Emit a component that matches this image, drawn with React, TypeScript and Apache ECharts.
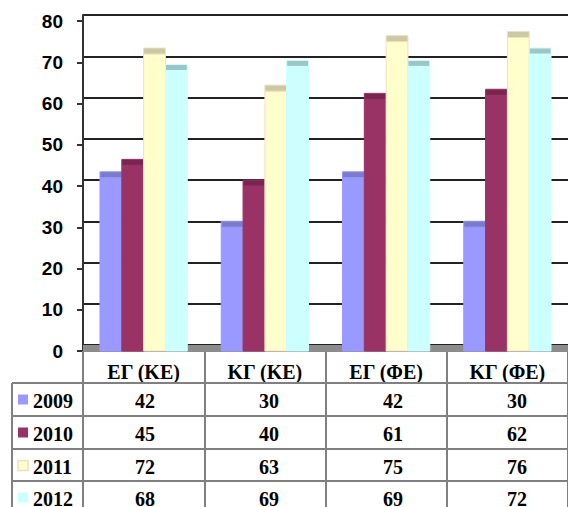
import React, { useEffect, useRef } from "react";
import * as echarts from "echarts";

const categories = ["ΕΓ (ΚΕ)", "ΚΓ (ΚΕ)", "ΕΓ (ΦΕ)", "ΚΓ (ΦΕ)"];
const years = ["2009", "2010", "2011", "2012"];
const v2009 = [42, 30, 42, 30];
const v2010 = [45, 40, 61, 62];
const v2011 = [72, 63, 75, 76];
const v2012 = [68, 69, 69, 72];
const seriesValues = [v2009, v2010, v2011, v2012];

const faceColors = ["#9999FF", "#993366", "#FFFFCC", "#CCFFFF"];
const capColors = ["#7B7BCC", "#7A2550", "#C9C9A2", "#9CC6C6"];
const edgeColors = ["#9999FF", "#993366", "#F6DCC4", "#CCFFFF"];

// layout
const W = 568;
const H = 507;
const LEFT = 83;
const PLOT_TOP = 21;
const PLOT_BOTTOM = 351;
const DEPTH = 6;
const CAT_W = 124;
const ROW_TOPS = [383, 416, 449, 481];
const ROW_H = 33;
const TABLE_LEFT = 12;
const SERIF = "Liberation Serif";
const SANS = "Liberation Sans";

export default function App() {
  const ref = useRef<HTMLDivElement>(null);

  useEffect(() => {
    if (!ref.current) return;
    const chart = echarts.init(ref.current, null, { renderer: "svg" });
    const plotH = PLOT_BOTTOM - PLOT_TOP;
    const right = W - (LEFT + CAT_W * categories.length);

    const series: any[] = seriesValues.map((vals, s) => ({
      type: "custom",
      name: years[s],
      xAxisIndex: 0,
      yAxisIndex: 0,
      z: 5,
      clip: false,
      data: vals.map((v, i) => [i, v]),
      renderItem: (params: any, api: any) => {
        const idx = api.value(0);
        const val = api.value(1);
        const top = api.coord([idx, val]);
        const base = api.coord([idx, 0]);
        const catW = api.size([1, 0])[0];
        const bw = catW * 0.18;
        const x = top[0] - 2 * bw + s * bw;
        return {
          type: "group",
          children: [
            {
              type: "rect",
              shape: { x, y: top[1], width: bw, height: base[1] - top[1] },
              style: { fill: faceColors[s], stroke: edgeColors[s], lineWidth: 1 },
            },
            {
              type: "rect",
              shape: { x, y: top[1] - DEPTH, width: bw, height: DEPTH },
              style: { fill: capColors[s], stroke: edgeColors[s], lineWidth: 1 },
            },
          ],
        };
      },
    }));

    const graphic: any[] = [];
    graphic.push({
      type: "rect",
      z: 1,
      shape: { x: LEFT, y: PLOT_BOTTOM - DEPTH, width: W - LEFT + 20, height: DEPTH + 1 },
      style: { fill: "#8C8C8C" },
    });
    ROW_TOPS.forEach((y) => {
      graphic.push({
        type: "line",
        z: 3,
        shape: { x1: TABLE_LEFT, y1: y, x2: W + 20, y2: y },
        style: { stroke: "#808080", lineWidth: 2 },
      });
    });
    graphic.push({
      type: "line",
      z: 3,
      shape: { x1: TABLE_LEFT, y1: ROW_TOPS[0], x2: TABLE_LEFT, y2: H + 10 },
      style: { stroke: "#808080", lineWidth: 2 },
    });
    years.forEach((yr, s) => {
      const cy = ROW_TOPS[s] + ROW_H / 2;
      graphic.push({
        type: "rect",
        z: 4,
        shape: { x: 18, y: cy - 5, width: 10, height: 10 },
        style: { fill: faceColors[s], stroke: edgeColors[s], lineWidth: s === 2 ? 1.5 : 0 },
      });
      graphic.push({
        type: "text",
        z: 4,
        style: {
          text: yr,
          x: 33,
          y: cy + 1,
          fill: "#000",
          fontFamily: SERIF,
          fontWeight: "bold",
          fontSize: 20,
          align: "left",
          verticalAlign: "middle",
          textAlign: "left",
          textVerticalAlign: "middle",
        },
      });
      seriesValues[s].forEach((v, i) => {
        graphic.push({
          type: "text",
          z: 4,
          style: {
            text: String(v),
            x: LEFT + CAT_W * (i + 0.5),
            y: cy + 1,
            fill: "#000",
            fontFamily: SERIF,
            fontWeight: "bold",
            fontSize: 20,
            align: "center",
            verticalAlign: "middle",
            textAlign: "center",
            textVerticalAlign: "middle",
          },
        });
      });
    });

    chart.setOption({
      animation: false,
      backgroundColor: "#fff",
      grid: [
        { left: LEFT, right, top: PLOT_TOP, height: plotH, containLabel: false },
        { left: LEFT, right, top: PLOT_TOP - DEPTH, height: plotH, containLabel: false },
      ],
      xAxis: [
        {
          type: "category",
          gridIndex: 0,
          data: categories,
          boundaryGap: true,
          axisLine: { show: true, lineStyle: { color: "#808080", width: 1 } },
          axisTick: { show: true, length: H - PLOT_BOTTOM + 10, lineStyle: { color: "#808080", width: 2 } },
          axisLabel: {
            margin: 11,
            color: "#000",
            fontFamily: SERIF,
            fontWeight: "bold",
            fontSize: 20,
          },
          splitLine: { show: false },
        },
        {
          type: "category",
          gridIndex: 1,
          data: categories,
          show: false,
        },
      ],
      yAxis: [
        {
          type: "value",
          gridIndex: 0,
          min: 0,
          max: 80,
          interval: 10,
          axisLine: { show: true, lineStyle: { color: "#333", width: 2 } },
          axisTick: { show: true, length: 6, lineStyle: { color: "#333", width: 2 } },
          axisLabel: {
            margin: 20,
            color: "#000",
            fontFamily: SANS,
            fontWeight: "bold",
            fontSize: 19,
          },
          splitLine: { show: false },
        },
        {
          type: "value",
          gridIndex: 1,
          min: 0,
          max: 80,
          interval: 10,
          axisLine: { show: true, lineStyle: { color: "#333", width: 2 } },
          axisTick: { show: false },
          axisLabel: { show: false },
          splitLine: { show: true, lineStyle: { color: "#222", width: 2 } },
        },
      ],
      series,
      graphic,
    });

    return () => chart.dispose();
  }, []);

  return (
    <div
      ref={ref}
      style={{ position: "fixed", left: 0, top: 0, width: W, height: H }}
    />
  );
}
